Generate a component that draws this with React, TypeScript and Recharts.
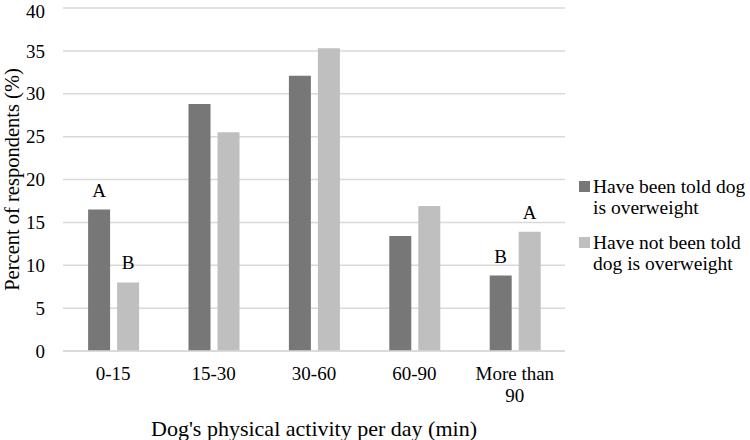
import React from 'react'
import { Bar, BarChart, CartesianGrid, LabelList, Legend, XAxis, YAxis } from 'recharts'

const categories = ['0-15', '15-30', '30-60', '60-90', 'More than 90']
const toldOverweight = [16.5, 28.8, 32.1, 13.4, 8.8]
const notToldOverweight = [8.0, 25.5, 35.3, 16.9, 13.9]
const toldLetters = ['A', '', '', '', 'B']
const notToldLetters = ['B', '', '', '', 'A']
const yTicks = [0, 5, 10, 15, 20, 25, 30, 35, 40]

const seriesNames = ['Have been told dog is overweight', 'Have not been told dog is overweight']

const FONT = "'Times New Roman', 'Liberation Serif', 'DejaVu Serif', serif"
const DARK = '#777777'
const LIGHT = '#bfbfbf'
const GRID = '#d9d9d9'

const data = categories.map((name, i) => ({
  name,
  told: toldOverweight[i],
  notTold: notToldOverweight[i],
  toldLetter: toldLetters[i],
  notToldLetter: notToldLetters[i]
}))

// greedy word wrap by character count, like the narrow category slots in the original
function wrapLabel(label: string, maxChars = 10) {
  const lines: string[] = []
  let line = ''
  for (const word of label.split(' ')) {
    const next = line ? `${line} ${word}` : word
    if (next.length > maxChars && line) {
      lines.push(line)
      line = word
    } else {
      line = next
    }
  }
  if (line) lines.push(line)
  return lines
}

function CategoryTick(props: any) {
  const { x, y, payload } = props
  const lines = wrapLabel(String(payload.value))
  return (
    <text x={x} y={y} textAnchor="middle" fill="#000" style={{ fontFamily: FONT, fontSize: 19 }}>
      {lines.map((line, i) => (
        <tspan key={i} x={x} dy={i === 0 ? '0.71em' : 22}>
          {line}
        </tspan>
      ))}
    </text>
  )
}

function LegendBox(props: any) {
  const { payload } = props
  return (
    <div style={{ fontFamily: FONT, fontSize: 19.5, lineHeight: '21px', color: '#000' }}>
      {(payload || []).map((item: any) => (
        <div key={item.value} style={{ display: 'flex', alignItems: 'flex-start', marginBottom: 14 }}>
          <span
            style={{
              width: 11,
              height: 11,
              background: item.color,
              marginTop: 5,
              marginRight: 3,
              flex: 'none'
            }}
          />
          <span style={{ width: 156, whiteSpace: 'normal' }}>{item.value}</span>
        </div>
      ))}
    </div>
  )
}

export default function App() {
  return (
    <div style={{ position: 'absolute', left: 0, top: 0, width: 750, height: 440, background: '#fff', fontFamily: FONT }}>
      <BarChart
        width={750}
        height={440}
        data={data}
        margin={{ top: 8, right: 15, bottom: 0, left: 0 }}
        barCategoryGap="25%"
        barGap={7}
        style={{ fontFamily: FONT }}
      >
        <CartesianGrid vertical={false} stroke={GRID} strokeWidth={1.5} />
        <XAxis
          dataKey="name"
          height={89}
          axisLine={{ stroke: GRID, strokeWidth: 1.5 }}
          tickLine={false}
          interval={0}
          tick={<CategoryTick />}
          tickMargin={10}
          label={{
            value: "Dog's physical activity per day (min)",
            position: 'insideBottom',
            offset: 4,
            style: { fontFamily: FONT, fontSize: 22, fill: '#000' }
          }}
        />
        <YAxis
          width={63}
          domain={[0, 40]}
          ticks={yTicks}
          axisLine={false}
          tickLine={false}
          tickMargin={12}
          tick={{ fontSize: 19, fill: '#000', style: { fontFamily: FONT } }}
          label={{
            value: 'Percent of respondents (%)',
            angle: -90,
            position: 'insideLeft',
            offset: 12,
            style: { fontFamily: FONT, fontSize: 20.5, fill: '#000', textAnchor: 'middle' }
          }}
        />
        <Legend
          layout="vertical"
          align="right"
          verticalAlign="top"
          content={<LegendBox />}
          wrapperStyle={{ left: 579, top: 176, width: 170 }}
        />
        <Bar dataKey="told" name={seriesNames[0]} fill={DARK} isAnimationActive={false}>
          <LabelList
            dataKey="toldLetter"
            position="top"
            offset={13}
            style={{ fontFamily: FONT, fontSize: 19, fill: '#000' }}
          />
        </Bar>
        <Bar dataKey="notTold" name={seriesNames[1]} fill={LIGHT} isAnimationActive={false}>
          <LabelList
            dataKey="notToldLetter"
            position="top"
            offset={13}
            style={{ fontFamily: FONT, fontSize: 19, fill: '#000' }}
          />
        </Bar>
      </BarChart>
    </div>
  )
}
